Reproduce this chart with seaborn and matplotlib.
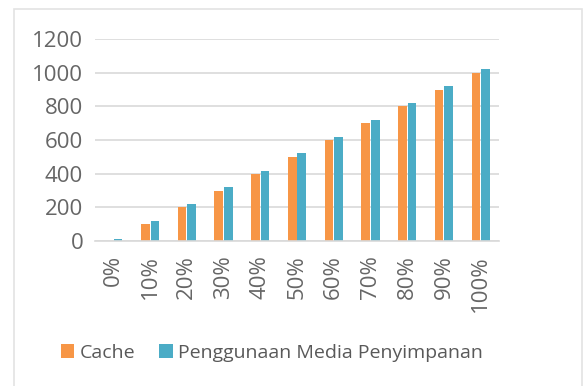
import matplotlib
matplotlib.use("Agg")
import matplotlib.pyplot as plt
import seaborn as sns
import pandas as pd
from matplotlib.patches import Rectangle

categories = ["0%", "10%", "20%", "30%", "40%", "50%", "60%", "70%", "80%", "90%", "100%"]
cache = [0, 100, 200, 300, 400, 500, 600, 700, 800, 900, 1000]
media = [10, 118, 218, 318, 418, 520, 620, 720, 820, 920, 1020]
series_names = ["Cache", "Penggunaan Media Penyimpanan"]
colors = ["#F79646", "#4BACC6"]
yticks = [0, 200, 400, 600, 800, 1000, 1200]

df = pd.DataFrame({
    "cat": categories * 2,
    "val": cache + media,
    "series": [series_names[0]] * len(categories) + [series_names[1]] * len(categories),
})

sns.set_theme(style="white")
plt.rcParams["font.family"] = ["Open Sans", "DejaVu Sans"]

fig = plt.figure(figsize=(5.84, 3.86), dpi=100)
fig.patch.set_facecolor("white")
ax = fig.add_axes([95 / 584, 1 - 241 / 386, (499 - 95) / 584, (241 - 39) / 386])

sns.barplot(data=df, x="cat", y="val", hue="series", order=categories,
            hue_order=series_names, palette=colors, width=0.52, gap=0.1,
            saturation=1, linewidth=0, ax=ax, legend=True)

ax.set_ylim(0, 1200)
ax.set_yticks(yticks)
ax.set_yticklabels([str(v) for v in yticks])
ax.set_xlim(-0.5, len(categories) - 0.5)
ax.set_xlabel("")
ax.set_ylabel("")
ax.yaxis.grid(True, color="#d9d9d9", linewidth=1.2)
ax.set_axisbelow(True)
for s in ["top", "right", "left"]:
    ax.spines[s].set_visible(False)
ax.spines["bottom"].set_color("#d9d9d9")
ax.spines["bottom"].set_linewidth(1.2)
ax.tick_params(axis="both", length=0, colors="#666666", labelsize=16)
ax.tick_params(axis="y", pad=8.5)
ax.tick_params(axis="x", pad=10)
plt.setp(ax.get_xticklabels(), rotation=90)

handles, labels = ax.get_legend_handles_labels()
ax.legend(handles, labels, loc="center", bbox_to_anchor=(272 / 584, 1 - 353 / 386),
          bbox_transform=fig.transFigure, ncol=2, frameon=False,
          fontsize=14, labelcolor="#595959", handlelength=0.7, handleheight=0.7,
          handletextpad=0.3, columnspacing=1.2)

fig.patches.append(Rectangle((14 / 584, -0.1), (582 - 14) / 584, 1.1 - 9 / 386,
                             transform=fig.transFigure, fill=False,
                             edgecolor="#e3e3e3", linewidth=1.2))

fig.savefig("out.png", dpi=100)
